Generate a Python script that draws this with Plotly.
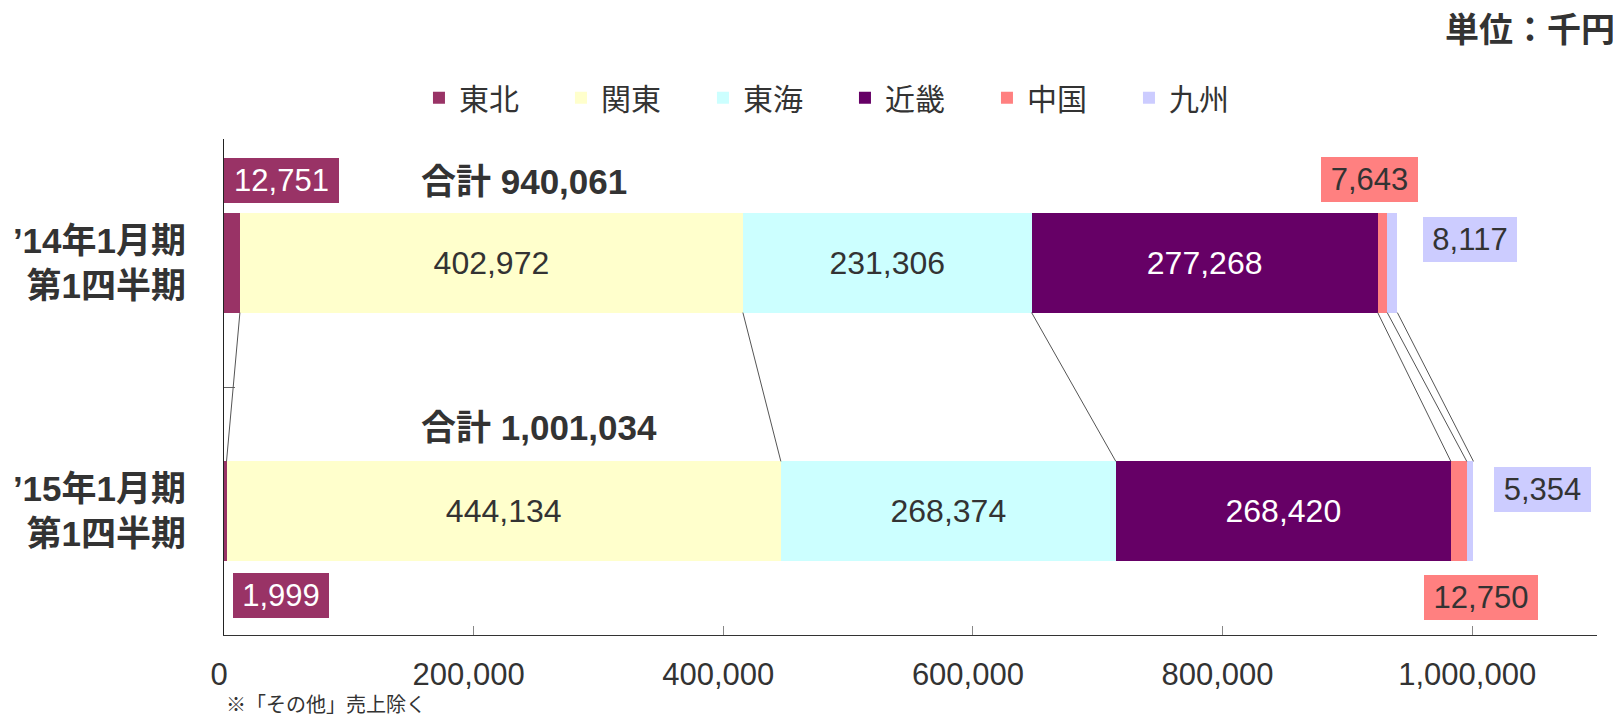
import numpy as np
import plotly.graph_objects as go

# ---- data ----
periods = ["’14年1月期<br>第1四半期", "’15年1月期<br>第1四半期"]
regions = ["東北", "関東", "東海", "近畿", "中国", "九州"]
tohoku = [12751, 1999]
kanto = [402972, 444134]
tokai = [231306, 268374]
kinki = [277268, 268420]
chugoku = [7643, 12750]
kyushu = [8117, 5354]
totals = [940061, 1001034]
x_tick_vals = [0, 200000, 400000, 600000, 800000, 1000000]

series = [tohoku, kanto, tokai, kinki, chugoku, kyushu]
colors = ["#993366", "#FFFFCC", "#CCFFFF", "#660066", "#FF8080", "#CCCCFF"]
inside_label = [False, True, True, True, False, False]
inside_color = ["#FFFFFF", "#333333", "#333333", "#FFFFFF", "#333333", "#333333"]

FONT = "Liberation Sans, Noto Sans CJK JP, sans-serif"
BAR_W = 0.4

fig = go.Figure()
for name, vals, col, show, tcol in zip(regions, series, colors, inside_label, inside_color):
    fig.add_trace(go.Bar(
        orientation="h", y=periods, x=vals, name=name, width=BAR_W,
        marker=dict(color=col, line=dict(width=0)),
        text=[f"{v:,}" for v in vals] if show else None,
        textposition="inside" if show else "none",
        insidetextanchor="middle",
        textfont=dict(size=32, color=tcol, family=FONT),
        hovertemplate="%{y}<br>" + name + ": %{x:,}<extra></extra>",
    ))

# connector lines between the cumulative boundaries
arr = np.array(series)
cum = np.cumsum(arr, axis=0)
for i in range(len(regions)):
    fig.add_shape(type="line", xref="x", yref="y",
                  x0=cum[i, 0], y0=BAR_W / 2, x1=cum[i, 1], y1=1 - BAR_W / 2,
                  line=dict(color="#555555", width=1))

# boxed labels for the small segments: (series, period, xshift, yshift, width, text colour)
box_specs = [
    (0, 0, 50, 83, 115, "#FFFFFF"),
    (4, 0, -13, 84, 97, "#333333"),
    (5, 0, 78, 24, 94, "#333333"),
    (0, 1, 56, -84, 96, "#FFFFFF"),
    (4, 1, 22, -86, 114, "#333333"),
    (5, 1, 72, 22, 97, "#333333"),
]
annotations = []
for s, p, xs, ys, w, tc in box_specs:
    start = cum[s, p] - arr[s, p]
    annotations.append(dict(
        x=start + arr[s, p] / 2, y=p, xref="x", yref="y",
        text=f"{arr[s, p]:,}", showarrow=False, xanchor="center", yanchor="middle",
        xshift=xs, yshift=ys, width=w, height=45, align="center",
        bgcolor=colors[s], borderpad=0, borderwidth=0,
        font=dict(size=31, color=tc, family=FONT),
    ))

# totals
for p, t in enumerate(totals):
    annotations.append(dict(
        x=0, y=p, xref="x", yref="y", text=f"合計 {t:,}", showarrow=False,
        xanchor="left", yanchor="middle", xshift=195, yshift=82 if p == 0 else 84,
        font=dict(size=35, color="#333333", family=FONT, weight="bold"),
    ))

# unit and footnote
annotations.append(dict(
    x=1, y=1.2204, xref="paper", yref="paper", text="単位：千円", showarrow=False,
    xanchor="right", yanchor="middle", xshift=20,
    font=dict(size=34, color="#333333", family=FONT, weight="bold"),
))
annotations.append(dict(
    x=0, y=-0.142, xref="paper", yref="paper", text="※「その他」売上除く", showarrow=False,
    xanchor="left", yanchor="middle",
    font=dict(size=20, color="#333333", family=FONT),
))

# the page body adds an 8px offset, so the figure is sized to end at the window edge
fig.update_layout(
    width=1613, height=709,
    barmode="stack",
    paper_bgcolor="white", plot_bgcolor="white",
    margin=dict(l=216, r=24, t=131, b=82, autoexpand=False),
    font=dict(family=FONT, color="#333333"),
    showlegend=True,
    legend=dict(orientation="h", x=0.142, xanchor="left", y=1.083, yanchor="middle",
                font=dict(size=30, color="#333333", family=FONT),
                entrywidth=97, entrywidthmode="pixels", traceorder="normal",
                bgcolor="rgba(0,0,0,0)"),
    annotations=annotations,
)
fig.update_xaxes(
    range=[0, 1100000], tickvals=x_tick_vals, tickformat=",",
    showgrid=False, zeroline=False, showline=True, linecolor="#333333", linewidth=1,
    ticks="inside", ticklen=9, tickcolor="#888888", tickwidth=1,
    tickfont=dict(size=31, color="#333333", family=FONT),
    ticklabelshift=-5, ticklabelstandoff=12, automargin=False,
)
fig.update_yaxes(
    type="category", categoryorder="array", categoryarray=periods,
    range=[1.5, -0.5], showgrid=False, zeroline=False,
    showline=True, linecolor="#222222", linewidth=1,
    ticks="inside", tickson="boundaries", ticklen=11, tickcolor="#666666",
    tickfont=dict(size=35, color="#333333", family=FONT, weight="bold"),
    ticklabelstandoff=30, automargin=False,
)

fig.write_html("out.html")
